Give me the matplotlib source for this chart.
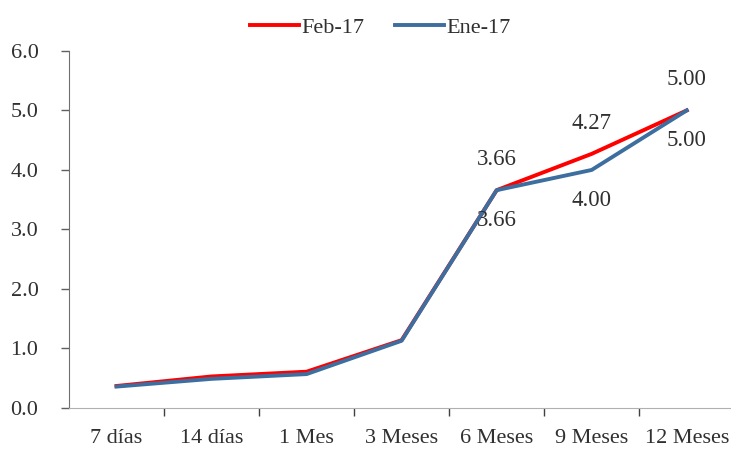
import numpy as np
import matplotlib.pyplot as plt
from matplotlib.ticker import FixedLocator

# plazos y tasas (%)
plazos = ['7 días', '14 días', '1 Mes', '3 Meses', '6 Meses', '9 Meses', '12 Meses']
feb17 = [0.37, 0.53, 0.61, 1.14, 3.66, 4.27, 5.00]
ene17 = [0.36, 0.49, 0.57, 1.13, 3.66, 4.00, 5.00]

# puntos con etiqueta de dato
etiq_feb = [4, 5, 6]
etiq_ene = [4, 5, 6]

plt.rcParams['font.family'] = ['Liberation Serif', 'DejaVu Serif']

fig = plt.figure(figsize=(7.31, 4.49), dpi=100)
ax = fig.add_axes([0.0944, 0.0913, 0.91, 0.7953])

x = np.arange(len(plazos))
ax.plot(x, feb17, color='#FF0000', lw=2.8, label='Feb-17')
ax.plot(x, ene17, color='#3C6E9F', lw=2.8, label='Ene-17')

for i in etiq_feb:
    ax.annotate(f'{feb17[i]:.2f}', (x[i], feb17[i]), xytext=(0, 22),
                textcoords='offset points', ha='center', va='center',
                fontsize=16.5, color='#303030')
for i in etiq_ene:
    ax.annotate(f'{ene17[i]:.2f}', (x[i], ene17[i]), xytext=(0, -22),
                textcoords='offset points', ha='center', va='center',
                fontsize=16.5, color='#303030')

ax.set_xlim(-0.5, len(plazos) - 0.5)
ax.set_ylim(0, 6)
ax.set_yticks(np.arange(0, 7, 1))
ax.set_yticklabels([f'{v:.1f}' for v in np.arange(0, 7, 1)])
ax.set_xticks(x)
ax.set_xticklabels(plazos)
ax.xaxis.set_minor_locator(FixedLocator(np.arange(0.5, len(plazos), 1)))

ax.tick_params(axis='x', which='major', length=0, pad=15, labelsize=16, labelcolor='#303030')
ax.tick_params(axis='x', which='minor', length=6, color='#404040', width=1)
ax.tick_params(axis='y', length=6, color='#606060', width=1, pad=16,
               labelsize=16, labelcolor='#303030')

for s in ['top', 'right']:
    ax.spines[s].set_visible(False)
ax.spines['left'].set_color('#707070')
ax.spines['bottom'].set_color('#B0B0B0')

fig.legend(loc='center', bbox_to_anchor=(0.52, 0.938), ncol=2, frameon=False,
           fontsize=16, handlelength=2.2, handletextpad=0.1, columnspacing=1.4,
           labelcolor='#303030')

fig.savefig('out.png', dpi=100)
